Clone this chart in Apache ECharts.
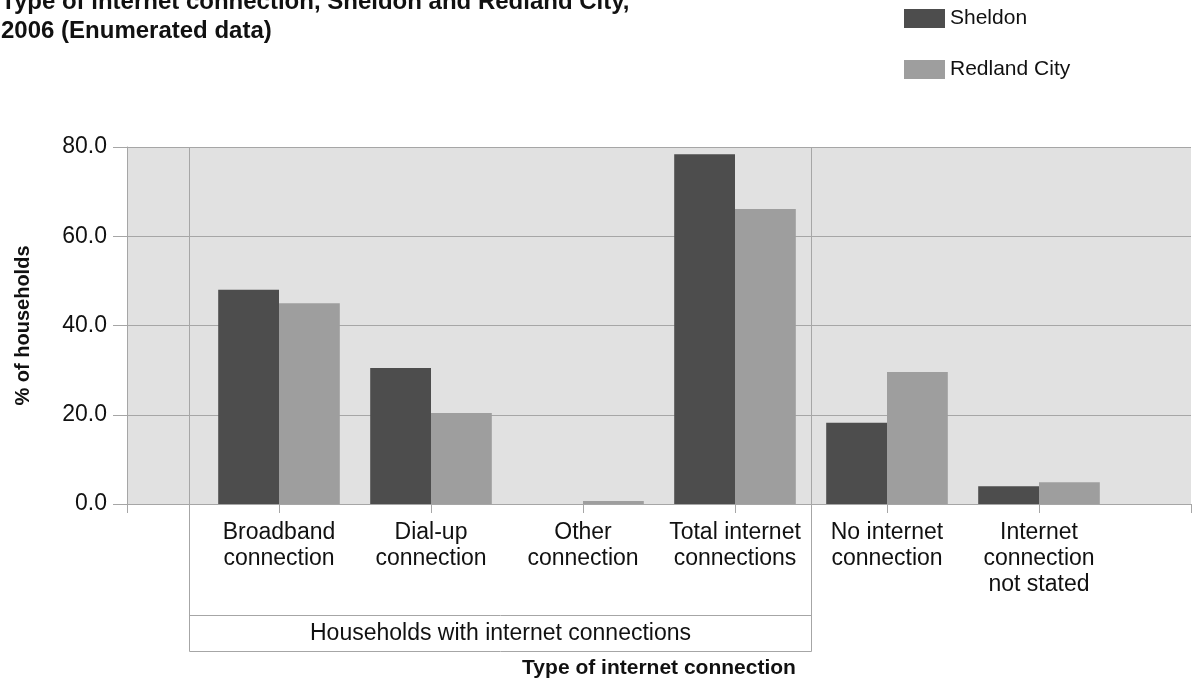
<!DOCTYPE html>
<html>
<head>
<meta charset="utf-8">
<script src="https://cdn.jsdelivr.net/npm/echarts@6/dist/echarts.min.js"></script>
<style>
  html, body { margin: 0; padding: 0; background: #fff; }
  #chart { width: 1192px; height: 684px; }
</style>
</head>
<body>
<div id="chart"></div>
<script>
// categories (empty slot at each end, like the original layout)
var categories = ['', 'Broadband\nconnection', 'Dial-up\nconnection', 'Other\nconnection',
  'Total internet\nconnections', 'No internet\nconnection', 'Internet\nconnection\nnot stated', ''];
var sheldon = [null, 48.0, 30.5, 0.0, 78.4, 18.2, 4.0, null];
var redland = [null, 45.0, 20.4, 0.7, 66.1, 29.6, 4.9, null];
var yTicks = [0, 20, 40, 60, 80];

var font = 'Liberation Sans, Arial, sans-serif';
var lineGray = '#a6a6a6';

var myChart = echarts.init(document.getElementById('chart'));

var option = {
  animation: false,
  textStyle: { fontFamily: font },
  title: {
    text: 'Type of internet connection, Sheldon and Redland City,\n2006 (Enumerated data)',
    left: -4,
    top: -17,
    textStyle: { fontFamily: font, fontSize: 24, fontWeight: 'bold', color: '#111', lineHeight: 29 }
  },
  legend: {
    orient: 'vertical',
    left: 899,
    top: 3,
    itemWidth: 41,
    itemHeight: 19,
    itemGap: 30,
    icon: 'rect',
    textStyle: { fontFamily: font, fontSize: 21, color: '#111' },
    data: ['Sheldon', 'Redland City']
  },
  grid: {
    left: 127, top: 147, right: 1, bottom: 180,
    outerBoundsMode: 'none',
    show: true, backgroundColor: '#e1e1e1', borderWidth: 0
  },
  xAxis: {
    type: 'category',
    data: categories,
    boundaryGap: false,
    name: 'Type of internet connection',
    nameLocation: 'middle',
    nameGap: 154,
    nameTextStyle: { fontFamily: font, fontSize: 21, fontWeight: 'bold', color: '#111' },
    axisLine: { lineStyle: { color: lineGray, width: 1 } },
    axisTick: { interval: 0, length: 9, lineStyle: { color: lineGray } },
    axisLabel: { interval: 0, margin: 16, fontFamily: font, fontSize: 23, lineHeight: 26, color: '#111' },
    splitLine: { show: false }
  },
  yAxis: {
    type: 'value',
    min: yTicks[0],
    max: yTicks[yTicks.length - 1],
    interval: 20,
    name: '% of households',
    nameLocation: 'middle',
    nameGap: 94,
    nameTextStyle: { fontFamily: font, fontSize: 20, fontWeight: 'bold', color: '#111' },
    axisLine: { show: true, lineStyle: { color: lineGray } },
    axisTick: { show: true, length: 14, lineStyle: { color: lineGray } },
    axisLabel: {
      margin: 20, fontFamily: font, fontSize: 23, color: '#111',
      formatter: function (v) { return v.toFixed(1); }
    },
    splitLine: { lineStyle: { color: lineGray, width: 1 } }
  },
  series: [{
    name: 'Sheldon',
    type: 'bar',
    data: sheldon,
    barGap: '0%',
    barCategoryGap: '20%',
    itemStyle: { color: '#4d4d4d' },
    z: 3
  }, {
    name: 'Redland City',
    type: 'bar',
    data: redland,
    itemStyle: { color: '#9e9e9e' },
    z: 3
  }]
};

myChart.setOption(option);

// group bracket for "Households with internet connections"
function xAt(pos) {
  var i = Math.floor(pos);
  var a = myChart.convertToPixel({ xAxisIndex: 0 }, i);
  var b = myChart.convertToPixel({ xAxisIndex: 0 }, i + 1);
  return a + (b - a) * (pos - i);
}
var yTop = myChart.convertToPixel({ yAxisIndex: 0 }, yTicks[yTicks.length - 1]);
var yBase = myChart.convertToPixel({ yAxisIndex: 0 }, yTicks[0]);
var gx1 = Math.round(xAt(0.405)) + 0.5;
var gx2 = Math.round(xAt(4.5)) + 0.5;
var row1 = Math.round(yBase + 111) + 0.5;
var row2 = Math.round(yBase + 147) + 0.5;
var ls = { stroke: lineGray, lineWidth: 1 };

myChart.setOption({
  graphic: [
    { type: 'line', z: 2, shape: { x1: gx1, y1: yTop, x2: gx1, y2: row2 }, style: ls },
    { type: 'line', z: 2, shape: { x1: gx2, y1: yTop, x2: gx2, y2: row2 }, style: ls },
    { type: 'line', z: 2, shape: { x1: gx1, y1: row1, x2: gx2, y2: row1 }, style: ls },
    { type: 'line', z: 2, shape: { x1: gx1, y1: row2, x2: gx2, y2: row2 }, style: ls },
    {
      type: 'text', z: 2,
      x: (gx1 + gx2) / 2, y: (row1 + row2) / 2,
      style: {
        text: 'Households with internet connections',
        fontFamily: font, fontSize: 23, fill: '#111',
        align: 'center', verticalAlign: 'middle'
      }
    }
  ]
});
</script>
</body>
</html>
